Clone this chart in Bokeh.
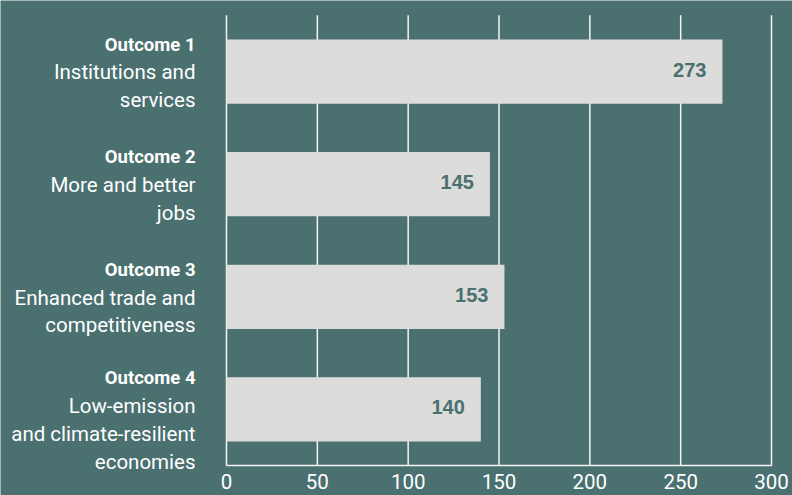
from bokeh.plotting import figure
from bokeh.models import Range1d, FixedTicker, ColumnDataSource
from bokeh.core.properties import value
from bokeh.embed import file_html
from bokeh.resources import INLINE

outcomes = ["Outcome 1", "Outcome 2", "Outcome 3", "Outcome 4"]
descriptions = [
    ["Institutions and", "services"],
    ["More and better", "jobs"],
    ["Enhanced trade and", "competitiveness"],
    ["Low-emission", "and climate-resilient", "economies"],
]
values = [273, 145, 153, 140]
x_ticks = [0, 50, 100, 150, 200, 250, 300]

BG = "#4a7070"
BAR = "#dcdcda"
LINE = "#f4f4f4"

W, H = 792, 495
# pixel layout of the value area inside the canvas
PX_LEFT, PX_RIGHT, PX_TOP, PX_BOTTOM = 226, 771, 14.7, 465.3
XMAX = x_ticks[-1]
n = len(outcomes)
kx = (PX_RIGHT - PX_LEFT) / XMAX
ky = (PX_BOTTOM - PX_TOP) / n

p = figure(width=W, height=H, output_backend="svg", toolbar_location=None,
           x_range=Range1d(-PX_LEFT / kx, (W - PX_LEFT) / kx),
           y_range=Range1d(-(H - PX_BOTTOM) / ky, n + PX_TOP / ky),
           min_border=0)
p.background_fill_color = BG
p.border_fill_color = BG
p.outline_line_color = None
p.xgrid.visible = False
p.ygrid.visible = False
p.yaxis.visible = False

ypos = [n - 1 - i + 0.5 for i in range(n)]  # top category first

# vertical grid lines between 0 and the top of the value area
p.segment(x0=x_ticks, x1=x_ticks, y0=[0] * len(x_ticks), y1=[n] * len(x_ticks),
          line_color=LINE, line_width=1.5)

src = ColumnDataSource(dict(y=ypos, v=values, t=[str(v) for v in values]))
p.hbar(y="y", right="v", left=0, height=0.57, source=src,
       fill_color=BAR, line_color=None)
p.text(x="v", y="y", text="t", source=src, x_offset=-16, y_offset=-2,
       text_align="right", text_baseline="middle",
       text_font=value("Liberation Sans"), text_font_style="bold",
       text_font_size="20px", text_color=BG)

# category labels (bold title + wrapped description lines)
bx, by, bt, bo = [], [], [], []
lx, ly, lt, lo = [], [], [], []
for i in range(n):
    lines = [outcomes[i]] + descriptions[i]
    first = -27 - 4 * (len(lines) - 3)
    for j, line in enumerate(lines):
        tgt = (bx, by, bt, bo) if j == 0 else (lx, ly, lt, lo)
        tgt[0].append(0); tgt[1].append(ypos[i]); tgt[2].append(line)
        tgt[3].append(first + 27.7 * j)

p.text(x="x", y="y", text="t", y_offset="o", x_offset=-31,
       source=ColumnDataSource(dict(x=bx, y=by, t=bt, o=bo)),
       text_align="right", text_baseline="middle",
       text_font=value("Roboto"), text_font_style="bold",
       text_font_size="18.5px", text_color="white")
p.text(x="x", y="y", text="t", y_offset="o", x_offset=-31,
       source=ColumnDataSource(dict(x=lx, y=ly, t=lt, o=lo)),
       text_align="right", text_baseline="middle",
       text_font=value("Roboto"), text_font_style="normal",
       text_font_size="20.5px", text_color="white")

ax = p.xaxis[0]
ax.fixed_location = 0
ax.bounds = (0, XMAX)
ax.ticker = FixedTicker(ticks=x_ticks)
ax.axis_line_color = LINE
ax.axis_line_width = 1.5
ax.major_tick_line_color = None
ax.minor_tick_line_color = None
ax.major_tick_out = 0
ax.major_tick_in = 0
ax.major_label_standoff = 8
ax.major_label_text_color = "white"
ax.major_label_text_font = "Roboto"
ax.major_label_text_font_size = "20.5px"

open("out.html", "w").write(file_html(p, INLINE))
